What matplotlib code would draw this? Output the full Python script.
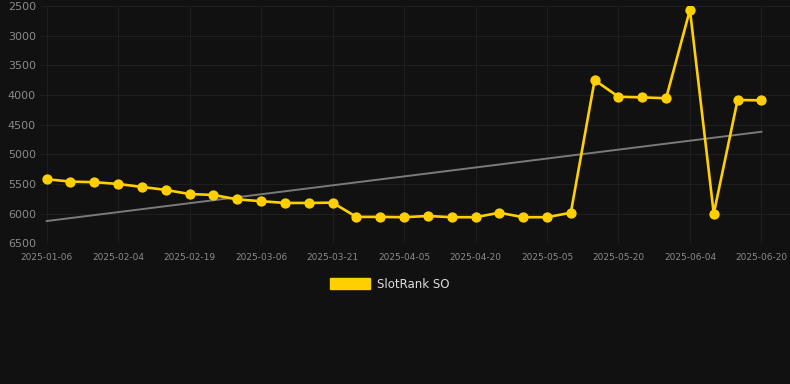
import matplotlib
matplotlib.use("Agg")
import matplotlib.pyplot as plt
from matplotlib.patches import Patch
import numpy as np

# weekly rank values (lower is better, axis inverted)
ranks = [5420, 5460, 5470, 5500, 5550, 5600, 5670, 5685, 5760, 5790,
         5820, 5820, 5815, 6055, 6055, 6060, 6040, 6060, 6060, 5985,
         6060, 6060, 5985, 3750, 4030, 4040, 4055, 2565, 6000, 4085,
         4090]
tick_labels = ["2025-01-06", "2025-02-04", "2025-02-19", "2025-03-06",
               "2025-03-21", "2025-04-05", "2025-04-20", "2025-05-05",
               "2025-05-20", "2025-06-04", "2025-06-20"]
trend_ends = [6125, 4620]
y_ticks = [2500, 3000, 3500, 4000, 4500, 5000, 5500, 6000, 6500]

BG = "#111111"
GOLD = "#FFD000"
GRID = "#1e1e1e"
TXT = "#8a8a8a"


def main() -> None:
    fig = plt.figure(figsize=(7.9, 3.84), dpi=100, facecolor=BG)
    ax = fig.add_axes([40 / 790, 1 - 243.3 / 384, 750 / 790, (243.3 - 6) / 384])
    ax.set_facecolor(BG)

    x = np.arange(len(ranks))
    ax.plot([x[0], x[-1]], trend_ends, color="#7a7a7a", lw=1.4, zorder=2)
    ax.plot(x, ranks, color=GOLD, lw=1.9, marker="o", ms=6.4,
            markerfacecolor=GOLD, markeredgecolor=GOLD, zorder=3)

    ax.set_xlim(-0.28, 31.2)
    ax.set_ylim(6500, 2500)
    ax.set_yticks(y_ticks)
    ax.set_yticklabels([str(v) for v in y_ticks])
    ax.set_xticks(x[::3])
    ax.set_xticklabels(tick_labels)

    ax.grid(True, color=GRID, lw=0.8)
    for s in ax.spines.values():
        s.set_visible(False)
    ax.tick_params(axis="y", length=0, pad=3, labelsize=8, labelcolor=TXT)
    ax.tick_params(axis="x", length=0, pad=7, labelsize=6.5, labelcolor=TXT)

    handle = Patch(facecolor=GOLD, edgecolor=GOLD)
    fig.legend([handle], ["SlotRank SO"], loc="center",
               bbox_to_anchor=(390 / 790, 1 - 284 / 384), frameon=False,
               fontsize=8.5, labelcolor="#dddddd", handlelength=3.4,
               handleheight=1.0, handletextpad=0.6)

    fig.savefig("out.png", dpi=100, facecolor=BG)
    plt.close(fig)


if __name__ == "__main__":
    main()
